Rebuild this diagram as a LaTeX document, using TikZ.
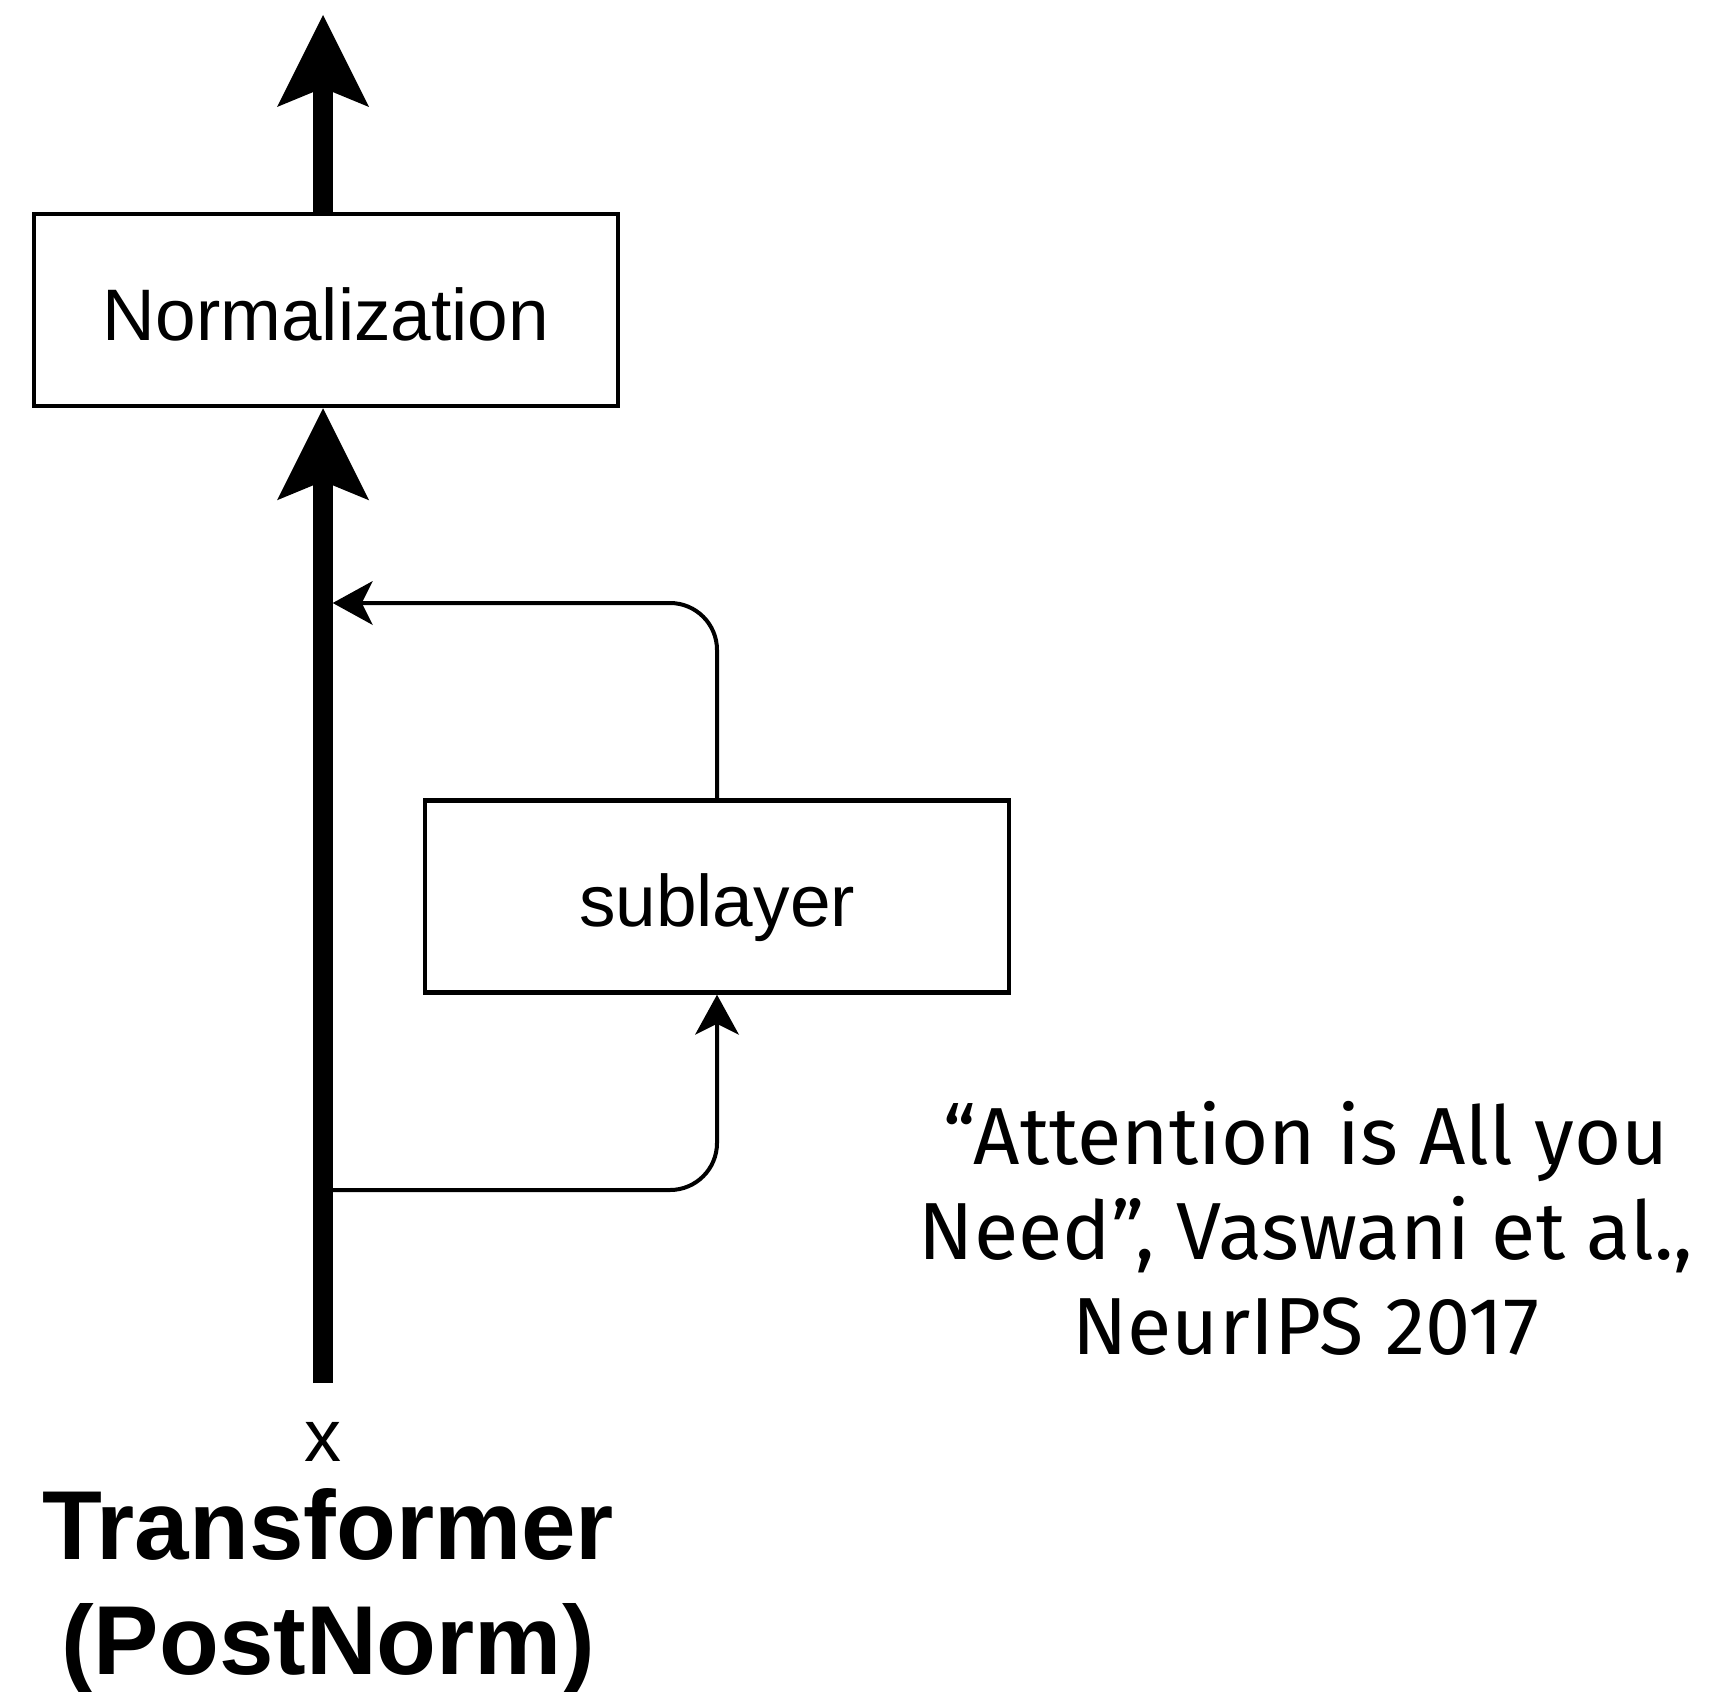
\documentclass[tikz,border=0pt]{standalone}
\usepackage{fontspec}
\setmainfont{Liberation Sans}
\newfontfamily\citefont{Fira Sans}
\usetikzlibrary{arrows.meta}

\tikzset{
  block/.style={draw, line width=4.5pt, minimum width=584pt, minimum height=192pt, inner sep=0pt, text height=60pt, text depth=0pt, font=\fontsize{73}{88}\selectfont},
  mainline/.style={line width=19.5pt, -{Stealth[length=92pt, width=92pt, inset=19pt, line width=0pt]}},
  skip/.style={line width=4pt, rounded corners=47pt, -{Stealth[length=40pt, width=44pt, inset=11pt, line width=0pt]}},
}

\begin{document}
\begin{tikzpicture}[x=1pt, y=-1pt]
\useasboundingbox (0,0) rectangle (1712,1691);

\node[block] (norm) at (326,310) {Normalization};
\node[block] (sub) at (717,896.5) {sublayer};

\coordinate (in) at (323,1383);
\coordinate (out) at (323,15);
\coordinate (fork) at (323,1190);
\coordinate (merge) at (332.75,603);

% residual stream
\draw[mainline] (in) -- (in |- norm.south);
\draw[mainline] (norm.north -| in) -- (out);

% branch through the sublayer and back
\draw[skip] (fork) -| (sub.south);
\draw[skip] (sub.north) |- (merge);

\node[font=\fontsize{74}{88}\selectfont] (xin) at (323,1442) {x};
\node[font=\bfseries\fontsize{98}{115}\selectfont, align=center, anchor=base] (title) at (328,1674) {Transformer\\(PostNorm)};

\node[font=\citefont\fontsize{81}{95}\selectfont, align=center, anchor=base] (cite) at (1306,1354) {“Attention is All you\\Need”, Vaswani et al.,\\NeurIPS 2017};

\end{tikzpicture}
\end{document}
